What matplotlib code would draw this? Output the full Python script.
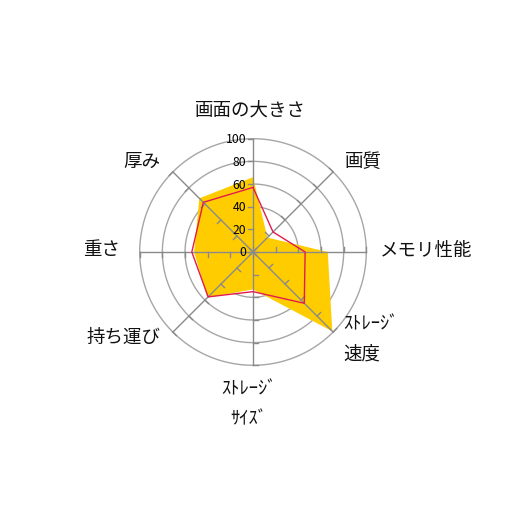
import matplotlib.pyplot as plt
import numpy as np

plt.rcParams['font.family'] = ['Noto Sans CJK JP', 'DejaVu Sans']

# 項目と値
categories = ['画面の大きさ', '画質', 'メモリ性能', 'ｽﾄﾚｰｼﾞ\n速度', 'ｽﾄﾚｰｼﾞ\nｻｲｽﾞ', '持ち運び', '重さ', '厚み']
yellow_vals = [66, 18, 66, 99, 33, 57, 52, 67]
red_vals = [57, 25, 46, 64, 35, 56, 54, 62]
ticks = [0, 20, 40, 60, 80, 100]

n = len(categories)
ang = np.deg2rad(90 - 360.0 / n * np.arange(n))

fig = plt.figure(figsize=(5.06, 5.06), dpi=100)
ax = fig.add_axes([0, 0, 1, 1])
ax.set_xlim(-223.3, 223.3)
ax.set_ylim(-223.3, 223.3)
ax.set_aspect('equal')
ax.axis('off')

# circulos da grade (o de 20 nao aparece)
t = np.linspace(0, 2 * np.pi, 400)
for r in ticks[2:]:
    ax.plot(r * np.cos(t), r * np.sin(t), color='#a6a6a6', lw=1.0, zorder=1)

# area amarela
yv = np.array(yellow_vals)
ax.fill(yv * np.cos(ang), yv * np.sin(ang), color='#ffcc00', lw=0, zorder=2)

# eixos e marcas
for a in ang:
    ax.plot([0, 100 * np.cos(a)], [0, 100 * np.sin(a)], color='#8a8a8a', lw=1.0, zorder=3)
    for r in ticks:
        x0 = r * np.cos(a)
        y0 = r * np.sin(a)
        ax.plot([x0, x0 - 4.4 * np.sin(a)], [y0, y0 + 4.4 * np.cos(a)],
                color='#8a8a8a', lw=1.0, zorder=3)

# linha vermelha
rv = np.array(red_vals + red_vals[:1])
ang2 = np.append(ang, ang[0])
ax.plot(rv * np.cos(ang2), rv * np.sin(ang2), color='#e31b4f', lw=1.0, zorder=4)

# rotulos do eixo
for r in ticks:
    ax.text(-6.0, r, str(r), ha='right', va='center', fontsize=8.8, color='black', zorder=5)

# rotulos das categorias (x, y, alinhamento)
label_pos = [(-2, 126, 'center'), (81, 80, 'left'), (112, 1.5, 'left'), (80, -63, 'left'),
             (-3.5, -120.5, 'center'), (-82, -74.5, 'right'), (-117.3, 2.4, 'right'), (-82, 80, 'right')]
for lab, (x, y, ha) in zip(categories, label_pos):
    for j, line in enumerate(lab.split('\n')):
        ax.text(x, y - 26.5 * j, line, ha=ha, va='center', fontsize=13.3, color='#111111')

plt.savefig('out.png', dpi=100)
